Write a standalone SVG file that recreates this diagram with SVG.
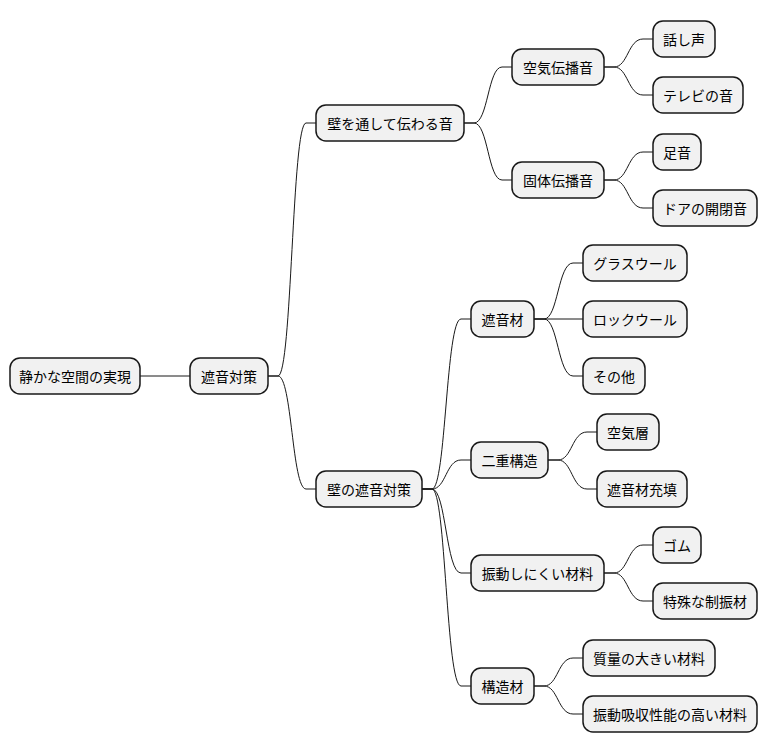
<svg xmlns="http://www.w3.org/2000/svg" width="768" height="752" viewBox="0 0 768 752">
<style>
.n rect{fill:#F1F1F1;stroke:#181818;stroke-width:1.5}
.n text{font-family:"Noto Sans CJK JP","Noto Sans",sans-serif;font-size:14px;fill:#000;text-anchor:middle;dominant-baseline:central}
.c path{fill:none;stroke:#181818;stroke-width:1}
</style>
<rect width="768" height="752" fill="#fff"/>
<g class="c">
<path d="M140,376 L190,376"/>
<path d="M268,376 L278,376 C292,376 292,123 306,123 L316,123"/>
<path d="M268,376 L278,376 C292,376 292,489 306,489 L316,489"/>
<path d="M464,123 L474,123 C488,123 488,67 502,67 L512,67"/>
<path d="M464,123 L474,123 C488,123 488,180 502,180 L512,180"/>
<path d="M604,67 L614,67 C628,67 628,39 643,39 L653,39"/>
<path d="M604,67 L614,67 C628,67 628,95 643,95 L653,95"/>
<path d="M604,180 L614,180 C628,180 628,152 643,152 L653,152"/>
<path d="M604,180 L614,180 C628,180 628,208 643,208 L653,208"/>
<path d="M422,489 L432,489 C446,489 446,319 461,319 L471,319"/>
<path d="M422,489 L432,489 C446,489 446,460 461,460 L471,460"/>
<path d="M422,489 L432,489 C446,489 446,573 461,573 L471,573"/>
<path d="M422,489 L432,489 C446,489 446,686 461,686 L471,686"/>
<path d="M534,319 L544,319 C558,319 558,263 573,263 L583,263"/>
<path d="M534,319 L583,319"/>
<path d="M534,319 L544,319 C558,319 558,376 573,376 L583,376"/>
<path d="M548,460 L558,460 C572,460 572,432 587,432 L597,432"/>
<path d="M548,460 L558,460 C572,460 572,489 587,489 L597,489"/>
<path d="M604,573 L614,573 C628,573 628,545 643,545 L653,545"/>
<path d="M604,573 L614,573 C628,573 628,601 643,601 L653,601"/>
<path d="M534,686 L544,686 C558,686 558,658 573,658 L583,658"/>
<path d="M534,686 L544,686 C558,686 558,714 573,714 L583,714"/>
</g>
<g id="n1" class="n"><rect x="10" y="358" width="130" height="36" rx="10"/><text x="75" y="376">静かな空間の実現</text></g>
<g id="n2" class="n"><rect x="190" y="358" width="78" height="36" rx="10"/><text x="229" y="376">遮音対策</text></g>
<g id="n3" class="n"><rect x="316" y="105" width="148" height="36" rx="10"/><text x="390" y="123">壁を通して伝わる音</text></g>
<g id="n4" class="n"><rect x="316" y="471" width="106" height="36" rx="10"/><text x="369" y="489">壁の遮音対策</text></g>
<g id="n5" class="n"><rect x="512" y="49" width="92" height="36" rx="10"/><text x="558" y="67">空気伝播音</text></g>
<g id="n6" class="n"><rect x="512" y="162" width="92" height="36" rx="10"/><text x="558" y="180">固体伝播音</text></g>
<g id="n7" class="n"><rect x="653" y="21" width="62" height="36" rx="10"/><text x="684" y="39">話し声</text></g>
<g id="n8" class="n"><rect x="653" y="77" width="90" height="36" rx="10"/><text x="698" y="95">テレビの音</text></g>
<g id="n9" class="n"><rect x="653" y="134" width="48" height="36" rx="10"/><text x="677" y="152">足音</text></g>
<g id="n10" class="n"><rect x="653" y="190" width="104" height="36" rx="10"/><text x="705" y="208">ドアの開閉音</text></g>
<g id="n11" class="n"><rect x="471" y="301" width="63" height="36" rx="10"/><text x="502.5" y="319">遮音材</text></g>
<g id="n12" class="n"><rect x="583" y="245" width="104" height="36" rx="10"/><text x="635" y="263">グラスウール</text></g>
<g id="n13" class="n"><rect x="583" y="301" width="104" height="36" rx="10"/><text x="635" y="319">ロックウール</text></g>
<g id="n14" class="n"><rect x="583" y="358" width="62" height="36" rx="10"/><text x="614" y="376">その他</text></g>
<g id="n15" class="n"><rect x="471" y="442" width="77" height="36" rx="10"/><text x="509.5" y="460">二重構造</text></g>
<g id="n16" class="n"><rect x="597" y="414" width="62" height="36" rx="10"/><text x="628" y="432">空気層</text></g>
<g id="n17" class="n"><rect x="597" y="471" width="90" height="36" rx="10"/><text x="642" y="489">遮音材充填</text></g>
<g id="n18" class="n"><rect x="471" y="555" width="133" height="36" rx="10"/><text x="537.5" y="573">振動しにくい材料</text></g>
<g id="n19" class="n"><rect x="653" y="527" width="48" height="36" rx="10"/><text x="677" y="545">ゴム</text></g>
<g id="n20" class="n"><rect x="653" y="583" width="104" height="36" rx="10"/><text x="705" y="601">特殊な制振材</text></g>
<g id="n21" class="n"><rect x="471" y="668" width="63" height="36" rx="10"/><text x="502.5" y="686">構造材</text></g>
<g id="n22" class="n"><rect x="583" y="640" width="132" height="36" rx="10"/><text x="649" y="658">質量の大きい材料</text></g>
<g id="n23" class="n"><rect x="583" y="696" width="174" height="36" rx="10"/><text x="670" y="714">振動吸収性能の高い材料</text></g>
</svg>
